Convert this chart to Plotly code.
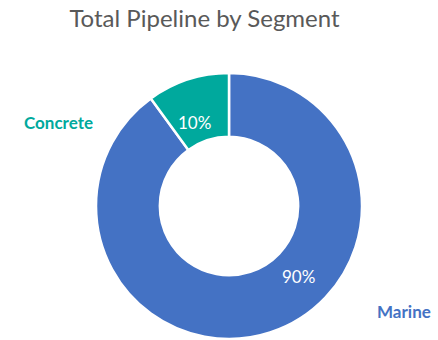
import plotly.graph_objects as go

# Pipeline share by business segment
segments = ["Marine", "Concrete"]
shares = [90, 10]
colors = ["#4472C4", "#00A99D"]

FONT = "Lato"
W, H = 438, 340

# donut geometry in pixels (center and outer radius)
cx, cy, r_out = 229, 206, 133

fig = go.Figure(
    go.Pie(
        labels=segments,
        values=shares,
        sort=False,
        direction="clockwise",
        rotation=0,
        hole=0.52,
        marker=dict(colors=colors, line=dict(color="white", width=2.5)),
        textinfo="none",
        hoverinfo="label+percent",
        showlegend=False,
        domain=dict(
            x=[(cx - r_out) / W, (cx + r_out) / W],
            y=[1 - (cy + r_out) / H, 1 - (cy - r_out) / H],
        ),
    )
)

total = sum(shares)
# percentage labels inside the ring
pct_pos = {"Marine": (298, 276), "Concrete": (194, 122)}
for seg, val in zip(segments, shares):
    px, py = pct_pos[seg]
    fig.add_annotation(
        x=px / W, y=1 - py / H, xref="paper", yref="paper",
        text=f"{round(100 * val / total)}%", showarrow=False,
        font=dict(family=FONT, size=17, color="white"),
        xanchor="center", yanchor="middle",
    )

# category labels outside the ring
cat_pos = {"Marine": (404, 311), "Concrete": (58, 122)}
for seg, col in zip(segments, colors):
    px, py = cat_pos[seg]
    fig.add_annotation(
        x=px / W, y=1 - py / H, xref="paper", yref="paper",
        text=f"<b>{seg}</b>", showarrow=False,
        font=dict(family=FONT, size=17, color=col),
        xanchor="center", yanchor="middle",
    )

fig.update_layout(
    width=W, height=H,
    margin=dict(l=0, r=0, t=0, b=0),
    paper_bgcolor="white",
    plot_bgcolor="white",
    title=dict(
        text="Total Pipeline by Segment",
        x=204.5 / W, xanchor="center",
        y=1 - 19 / H, yanchor="middle",
        font=dict(family=FONT, size=24, color="#595959"),
    ),
)

fig.write_html("out.html")
